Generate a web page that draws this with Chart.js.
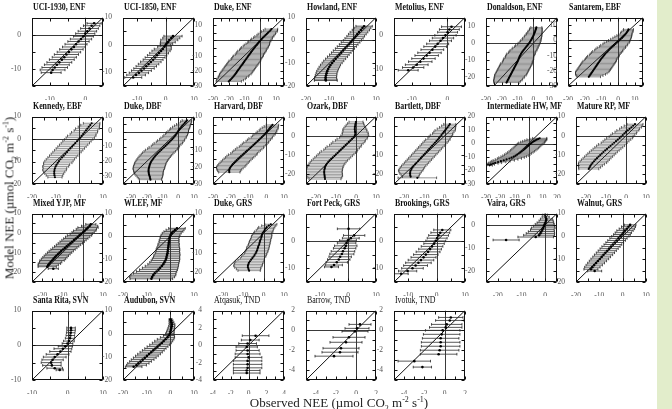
<!DOCTYPE html>
<html><head><meta charset="utf-8">
<script src="https://cdn.jsdelivr.net/npm/chart.js@4.4.1/dist/chart.umd.min.js"></script>
<style>
html,body{margin:0;padding:0;background:#fff;}
#wrap{position:relative;width:672px;height:409px;overflow:hidden;background:#fff;}
#strip{position:absolute;left:657px;top:0;width:15px;height:409px;background:#e2edcb;}
.ttl{position:absolute;font-family:"Liberation Serif","Times New Roman",serif;font-size:10.5px;line-height:10px;font-weight:bold;color:#111;white-space:nowrap;transform:scaleX(0.75);transform-origin:0 0;}
.ttl.reg{font-weight:normal;}
canvas{position:absolute;}
.axt{position:absolute;font-family:"Liberation Serif","Times New Roman",serif;font-size:13px;line-height:13px;color:#222;white-space:nowrap;}
.axt sub,.axt sup{font-size:8px;line-height:0;}
</style></head>
<body><div id="wrap"><div id="strip"></div></div>
<script>
// ---- data: [observed NEE, model NEE, error half-width] ----
const uci1930 = [[2.5,3.3,2.0],[1.8,2.6,2.3],[1.2,1.8,2.5],[0.6,1.0,2.6],[0.0,0.3,2.7],[-0.5,-0.5,2.8],[-1.2,-1.3,3.0],[-1.9,-2.0,3.0],[-2.6,-2.8,3.1],[-3.2,-3.6,3.2],[-3.9,-4.3,3.3],[-4.6,-5.1,3.3],[-5.3,-5.8,3.4],[-5.9,-6.6,3.4],[-6.6,-7.3,3.5],[-7.3,-8.1,3.5],[-8.0,-8.8,3.5],[-8.6,-9.6,3.6],[-9.2,-10.3,3.5],[-9.6,-11.1,2.8]];
const uci1850 = [[2.6,3.2,3.2],[2.0,2.5,3.0],[1.3,1.8,3.0],[0.8,1.0,2.6],[0.3,0.4,2.2],[0.0,-0.1,1.8],[-0.4,-0.7,2.4],[-1.0,-1.5,3.0],[-1.6,-2.2,3.2],[-2.3,-3.0,3.3],[-3.0,-3.8,3.4],[-3.7,-4.6,3.5],[-4.4,-5.4,3.5],[-5.2,-6.2,3.6],[-6.0,-7.0,3.6],[-6.8,-7.8,3.6],[-7.6,-8.6,3.6],[-8.5,-9.4,3.5],[-9.4,-10.2,3.4],[-10.4,-11.0,3.3],[-11.4,-11.9,3.0]];
const dukeEnf = [[-20.0,-27.0,8],[-19.2,-26.2,8.5],[-18.5,-25.4,9],[-17.8,-24.6,9],[-17.1,-23.8,9.5],[-16.5,-23.0,9.5],[-15.9,-22.2,10],[-15.3,-21.4,10],[-14.8,-20.6,10],[-14.2,-19.8,10],[-13.7,-19.0,10],[-13.1,-18.2,10],[-12.6,-17.4,10],[-12.0,-16.6,10],[-11.4,-15.8,10],[-10.9,-15.0,10],[-10.3,-14.2,10],[-9.8,-13.4,10],[-9.2,-12.6,9.5],[-8.7,-11.8,9.5],[-8.1,-11.0,9.5],[-7.6,-10.2,9.5],[-7.0,-9.4,9],[-6.4,-8.6,9],[-5.9,-7.8,9],[-5.3,-7.0,9],[-4.7,-6.2,8.5],[-4.1,-5.4,8.5],[-3.5,-4.6,8.5],[-2.9,-3.8,8],[-2.2,-3.0,8],[-1.6,-2.2,7.5],[-1.0,-1.4,7],[-0.4,-0.6,7],[0.3,0.2,6.5],[1.0,1.0,6.5],[1.7,1.8,6],[2.5,2.6,6],[3.3,3.4,5.5],[4.1,4.2,5.5],[4.9,5.0,5],[5.7,5.8,5],[6.4,6.6,4.5],[7.0,7.4,4]];
const howland = [[4.9,6.2,3.5],[4.2,5.4,3.6],[3.5,4.5,3.7],[2.7,3.6,3.8],[2.0,2.7,3.8],[1.3,1.8,3.8],[0.6,0.9,3.9],[-0.1,0.0,3.9],[-0.9,-0.9,4.0],[-1.7,-1.8,4.0],[-2.5,-2.7,4.1],[-3.3,-3.6,4.1],[-4.1,-4.5,4.2],[-4.9,-5.4,4.2],[-5.7,-6.3,4.2],[-6.5,-7.2,4.3],[-7.3,-8.1,4.3],[-8.1,-9.0,4.3],[-8.8,-9.9,4.3],[-9.5,-10.8,4.3],[-10.0,-11.7,4.4],[-10.5,-12.6,4.4],[-10.9,-13.5,4.5],[-11.2,-14.4,4.5],[-11.4,-15.3,4.6],[-11.6,-16.2,4.7],[-11.6,-17.0,4.8],[-11.5,-17.6,4.9]];
const metolius = [[1.2,2.3,2.8],[0.6,1.5,2.8],[0.1,0.7,2.8],[-0.5,-0.2,3.0],[-1.2,-1.0,3.0],[-1.9,-1.8,3.1],[-2.7,-2.7,3.1],[-3.4,-3.5,3.2],[-4.2,-4.4,3.2],[-5.0,-5.3,3.3],[-5.8,-6.1,3.3],[-6.7,-7.0,3.3],[-7.6,-7.9,3.3],[-8.6,-8.8,3.2],[-9.6,-9.6,3.0],[-11.0,-10.4,2.8]];
const donaldson = [[-17.0,-23.0,8],[-16.6,-22.3,8.5],[-16.2,-21.6,9],[-15.8,-20.9,9],[-15.4,-20.2,9.5],[-15.0,-19.5,9.5],[-14.6,-18.8,10],[-14.2,-18.1,10],[-13.8,-17.4,10],[-13.4,-16.7,10],[-13.0,-16.0,10],[-12.6,-15.3,10],[-12.2,-14.6,10],[-11.8,-13.9,10],[-11.4,-13.2,10],[-11.0,-12.5,10],[-10.6,-11.8,10],[-10.2,-11.1,9.5],[-9.8,-10.4,9.5],[-9.5,-9.7,9.5],[-9.2,-9.0,9.5],[-8.9,-8.3,9],[-8.6,-7.6,9],[-8.2,-6.9,9],[-7.8,-6.2,9],[-7.3,-5.5,8.5],[-6.8,-4.8,8.5],[-6.2,-4.1,8.5],[-5.6,-3.4,8],[-5.0,-2.7,8],[-4.4,-2.0,7.5],[-3.8,-1.3,7.5],[-3.2,-0.6,7],[-2.6,0.1,7],[-2.1,0.8,6.5],[-1.6,1.5,6.5],[-1.2,2.2,6],[-0.8,2.9,6],[-0.4,3.6,5.5],[0.0,4.3,5.5],[0.3,5.0,5],[0.6,5.7,5],[0.9,6.4,4.5],[1.2,7.1,4.5],[1.5,7.8,4],[1.7,8.5,4],[1.9,9.2,3.5]];
const santarem = [[-17.5,-24.0,7],[-17.0,-23.2,8],[-16.5,-22.4,9],[-16.0,-21.6,9.5],[-15.5,-20.8,10],[-15.0,-20.0,10],[-14.5,-19.2,10],[-14.0,-18.4,10],[-13.5,-17.6,10],[-13.0,-16.8,10],[-12.5,-16.0,10],[-12.0,-15.2,10],[-11.5,-14.4,10],[-11.0,-13.6,10],[-10.5,-12.8,9.5],[-10.0,-12.0,9.5],[-9.4,-11.2,9.5],[-8.8,-10.4,9.5],[-8.2,-9.6,9],[-7.6,-8.8,9],[-6.9,-8.0,9],[-6.2,-7.2,9],[-5.5,-6.4,8.5],[-4.8,-5.6,8.5],[-4.0,-4.8,8.5],[-3.2,-4.0,8],[-2.4,-3.2,8],[-1.6,-2.4,7.5],[-0.8,-1.6,7.5],[0.0,-0.8,7],[0.8,0.0,6.5],[1.6,0.8,6],[2.4,1.6,5.5],[3.1,2.4,5],[3.8,3.2,4.5],[4.4,4.0,4],[5.0,4.8,3.5],[5.5,5.6,3.5],[6.0,6.4,3],[6.3,7.2,3]];
const kennedy = [[5.2,7.0,3.5],[4.6,6.2,4],[4.0,5.4,4.5],[3.4,4.6,5],[2.8,3.8,5],[2.2,3.0,5.5],[1.6,2.2,5.5],[1.0,1.4,6],[0.4,0.6,6],[-0.3,-0.2,6],[-1.0,-1.0,6],[-1.7,-1.8,6],[-2.4,-2.6,6],[-3.1,-3.4,6],[-3.8,-4.2,6],[-4.5,-5.0,6],[-5.2,-5.8,6],[-5.9,-6.6,6],[-6.6,-7.4,6],[-7.3,-8.2,6],[-8.0,-9.0,6],[-8.6,-9.8,6],[-9.1,-10.6,6],[-9.6,-11.4,5.5],[-10.0,-12.2,5.5],[-10.3,-13.0,5],[-10.5,-13.8,5],[-10.6,-14.6,4.5],[-10.6,-15.4,4],[-10.5,-16.2,3.5],[-10.3,-17.0,3]];
const dukeDbf = [[5.5,7.5,3],[5.0,6.6,3.5],[4.2,5.7,4],[3.4,4.8,4.5],[2.6,3.9,5],[1.9,3.0,5.5],[1.2,2.1,6],[0.6,1.2,6],[0.0,0.3,6.5],[-0.5,-0.6,7],[-1.0,-1.5,7],[-1.6,-2.4,7.5],[-2.3,-3.3,7.5],[-3.0,-4.2,8],[-3.8,-5.1,8],[-4.6,-6.0,8.5],[-5.4,-6.9,8.5],[-6.3,-7.8,9],[-7.2,-8.7,9],[-8.1,-9.6,9],[-9.0,-10.5,9.5],[-9.9,-11.4,9.5],[-10.8,-12.3,10],[-11.7,-13.2,10],[-12.6,-14.1,10],[-13.4,-15.0,10],[-14.2,-15.9,10],[-14.9,-16.8,10],[-15.6,-17.7,10],[-16.2,-18.6,10],[-16.8,-19.5,10],[-17.3,-20.4,10],[-17.7,-21.3,10],[-18.0,-22.2,10],[-18.3,-23.1,10],[-18.5,-24.0,10],[-18.7,-24.9,10],[-18.8,-25.8,9.5],[-18.8,-26.7,9.5],[-18.7,-27.6,9],[-18.5,-28.5,9],[-18.3,-29.4,8.5],[-18.0,-30.3,8],[-17.8,-31.2,7.5],[-17.6,-32.1,7]];
const harvard = [[3.5,5.0,3.5],[2.8,4.2,4],[2.2,3.4,4.5],[1.6,2.6,5],[1.0,1.8,5],[0.4,1.0,5.5],[-0.3,0.2,5.5],[-1.0,-0.6,6],[-1.7,-1.4,6],[-2.5,-2.2,6],[-3.3,-3.0,6.5],[-4.1,-3.8,6.5],[-4.9,-4.6,6.5],[-5.7,-5.4,7],[-6.5,-6.2,7],[-7.3,-7.0,7],[-8.2,-7.8,7],[-9.0,-8.6,7.5],[-9.9,-9.4,7.5],[-10.8,-10.2,7.5],[-11.6,-11.0,7.5],[-12.5,-11.8,7.5],[-13.3,-12.6,8],[-14.2,-13.4,8],[-15.0,-14.2,8],[-15.8,-15.0,8],[-16.6,-15.8,8],[-17.4,-16.6,8],[-18.1,-17.4,8],[-18.8,-18.2,8],[-19.4,-19.0,8],[-20.0,-19.8,8],[-20.5,-20.6,7.5],[-20.8,-21.4,7],[-20.9,-22.2,6.5],[-20.8,-23.0,6]];
const ozark = [[0.0,7.2,3.5],[-0.2,6.4,4],[-0.4,5.6,4.5],[-0.5,4.8,5],[-0.6,4.0,5.5],[-0.6,3.2,6],[-0.5,2.4,6],[-0.4,1.6,6.5],[-0.4,0.8,6.5],[-0.6,0.0,7],[-1.2,-0.8,7],[-2.0,-1.6,7.5],[-2.8,-2.4,7.5],[-3.6,-3.2,8],[-4.4,-4.0,8],[-5.2,-4.8,8],[-6.0,-5.6,8.5],[-6.8,-6.4,8.5],[-7.6,-7.2,8.5],[-8.4,-8.0,9],[-9.2,-8.8,9],[-10.0,-9.6,9],[-10.8,-10.4,9],[-11.6,-11.2,9],[-12.4,-12.0,9],[-13.2,-12.8,9],[-13.9,-13.6,9],[-14.5,-14.4,9],[-15.0,-15.2,9],[-15.4,-16.0,9],[-15.6,-16.8,9],[-15.8,-17.6,9],[-15.9,-18.4,9],[-15.9,-19.2,9],[-15.8,-20.0,9],[-15.7,-20.8,9],[-15.6,-21.6,8.5],[-15.5,-22.4,8]];
const bartlett = [[2.5,6.0,3],[2.0,5.2,3.5],[1.4,4.4,4],[0.8,3.6,4.5],[0.2,2.8,5],[-0.4,2.0,5],[-1.0,1.2,5],[-1.6,0.4,5.5],[-2.2,-0.4,5.5],[-2.8,-1.2,5.5],[-3.4,-2.0,6],[-4.1,-2.8,6],[-4.8,-3.6,6],[-5.5,-4.4,6],[-6.2,-5.2,6],[-6.9,-6.0,6],[-7.6,-6.8,6],[-8.3,-7.6,6],[-9.0,-8.4,6],[-9.7,-9.2,6],[-10.4,-10.0,6],[-11.1,-10.8,6],[-11.8,-11.6,6],[-12.5,-12.4,6],[-13.2,-13.2,6],[-13.9,-14.0,6],[-14.6,-14.8,6],[-15.3,-15.6,6],[-15.9,-16.4,6],[-16.4,-17.2,6],[-16.8,-18.0,6],[-17.0,-18.8,5.5],[-17.1,-19.6,5],[-17.0,-20.4,4.5],[-16.8,-21.2,4],[-13.5,-21.8,9.5]];
const intermediateHw = [[-27.5,-16.2,2],[-26.5,-15.5,2.5],[-25.0,-14.8,3.5],[-23.5,-14.3,4.5],[-21.5,-13.7,5.5],[-19.5,-13.1,6.5],[-17.5,-12.5,7.5],[-15.5,-11.8,8],[-13.5,-11.1,8.5],[-12.0,-10.4,9],[-10.5,-9.7,9],[-9.2,-9.0,9],[-8.0,-8.2,9],[-6.9,-7.4,9],[-5.8,-6.6,9],[-4.8,-5.8,9],[-3.8,-5.0,9],[-2.9,-4.2,9],[-2.0,-3.4,9],[-1.2,-2.6,9],[-0.4,-1.8,9],[0.4,-1.0,9],[1.2,-0.3,9],[2.0,0.4,9],[2.9,1.1,8.5],[3.8,1.7,8],[4.8,2.3,7.5],[5.8,2.9,7],[6.8,3.4,6],[7.8,3.9,5]];
const matureRp = [[4.5,6.0,4],[3.6,5.2,4.5],[2.7,4.4,5],[1.8,3.6,5],[0.9,2.8,5.5],[0.0,2.0,5.5],[-0.8,1.2,6],[-1.6,0.4,6],[-2.4,-0.4,6],[-3.2,-1.2,6.5],[-4.1,-2.0,6.5],[-5.0,-2.8,6.5],[-5.9,-3.6,6.5],[-6.8,-4.4,7],[-7.7,-5.2,7],[-8.6,-6.0,7],[-9.5,-6.8,7],[-10.4,-7.6,7],[-11.3,-8.4,7],[-12.1,-9.2,7],[-12.9,-10.0,7],[-13.7,-10.8,7],[-14.5,-11.6,7],[-15.3,-12.4,7],[-16.0,-13.2,7],[-16.7,-14.0,7],[-17.3,-14.8,6.5],[-17.8,-15.6,6],[-18.2,-16.4,5.5],[-18.6,-17.2,5]];
const mixedYjp = [[4.0,4.5,2.5],[3.4,3.6,4],[2.6,2.8,5],[1.8,2.0,5],[1.0,1.2,5.5],[0.2,0.4,5.5],[-0.7,-0.4,5.5],[-1.6,-1.2,6],[-2.5,-2.0,6],[-3.4,-2.8,6],[-4.3,-3.6,6],[-5.2,-4.4,6],[-6.1,-5.2,6],[-7.0,-6.0,6],[-7.9,-6.8,6],[-8.8,-7.6,6],[-9.7,-8.4,6],[-10.6,-9.2,6],[-11.4,-10.0,6],[-12.2,-10.8,6],[-13.0,-11.6,6],[-13.7,-12.4,6],[-14.4,-13.2,6],[-15.1,-14.0,6],[-15.8,-14.8,5.5],[-16.4,-15.6,5.5],[-17.0,-16.4,5],[-17.5,-17.2,4.5],[-14.5,-18.2,2.5]];
const wlef = [[2.8,3.5,3.5],[2.0,2.8,3.8],[1.3,2.1,4],[0.6,1.4,4],[0.1,0.6,4],[-0.2,-0.2,4],[-0.4,-1.0,4],[-0.5,-1.8,4.2],[-0.6,-2.6,4.2],[-0.7,-3.4,4.5],[-0.8,-4.2,4.5],[-0.9,-5.0,4.8],[-1.0,-5.8,5],[-1.1,-6.6,5],[-1.2,-7.4,5.2],[-1.4,-8.2,5.5],[-1.6,-9.0,5.5],[-1.8,-9.8,5.8],[-2.1,-10.6,6],[-2.5,-11.4,6.2],[-3.0,-12.2,6.5],[-3.6,-13.0,7],[-4.3,-13.8,7.5],[-5.0,-14.6,8],[-5.8,-15.4,8.5],[-6.6,-16.2,9],[-7.2,-17.0,9.5],[-7.7,-17.8,9.5],[-8.0,-18.6,9]];
const dukeGrs = [[3.5,4.5,3],[2.5,3.8,3.5],[1.5,3.0,4],[1.0,2.3,4],[0.5,1.5,4.2],[0.0,0.7,4.5],[-0.5,0.0,4.5],[-0.8,-0.8,4.8],[-1.0,-1.6,5],[-1.2,-2.4,5],[-1.5,-3.2,5],[-1.8,-4.0,5.2],[-2.0,-4.8,5.2],[-2.2,-5.6,5.3],[-2.5,-6.4,5.3],[-2.8,-7.2,5.5],[-3.0,-8.0,5.5],[-3.3,-8.8,5.5],[-3.6,-9.6,5.6],[-4.0,-10.4,5.6],[-4.5,-11.2,5.8],[-5.0,-12.0,6],[-5.6,-12.8,6],[-6.2,-13.6,6.5],[-6.8,-14.4,7],[-7.3,-15.2,7],[-7.6,-16.0,7],[-7.8,-16.8,7],[-7.8,-17.6,6.5],[-7.5,-18.4,6],[-7.2,-19.2,5.5]];
const fortPeck = [[0.2,4.4,4],[2.2,2.0,3.8],[1.0,1.0,3],[0.0,0.2,3],[-0.5,-0.8,3.3],[-0.8,-1.8,4],[-1.2,-2.7,4],[-1.8,-3.8,4.2],[-2.2,-4.8,4.3],[-2.8,-5.8,4.0],[-3.3,-6.8,4.0],[-4.0,-7.8,3.8],[-5.0,-8.8,3.0],[-5.9,-9.5,2.5]];
const brookings = [[2.0,4.0,3.0],[1.3,3.0,3.3],[0.7,2.0,3.5],[0.2,1.0,3.5],[-0.3,0.0,3.5],[-0.9,-1.0,3.6],[-1.6,-2.0,3.8],[-2.3,-3.0,4.0],[-3.0,-4.0,4.2],[-3.8,-5.0,4.3],[-4.6,-6.0,4.4],[-5.5,-7.0,4.5],[-6.4,-8.0,4.5],[-7.4,-9.0,4.2],[-8.5,-10.0,3.8],[-10.2,-11.0,3.2],[-12.5,-12.0,2.5]];
const vaira = [[0.0,4.5,1.0],[0.2,3.5,1.5],[0.5,2.6,2.5],[0.4,1.8,3.0],[0.1,1.0,3.5],[-0.2,0.3,4.0],[-0.5,-0.5,4.5],[-0.8,-1.3,5.0],[-1.2,-2.1,5.0],[-1.6,-2.9,5.5],[-2.0,-3.7,6.0],[-2.6,-4.5,6.5],[-4.0,-5.3,7.5],[-16.5,-6.6,5.5]];
const walnut = [[3.2,5.0,2.5],[2.5,4.2,3.0],[1.8,3.3,3.3],[1.0,2.5,3.5],[0.3,1.6,3.5],[-0.3,0.8,3.6],[-1.0,0.0,3.7],[-1.8,-0.9,3.7],[-2.6,-1.8,3.8],[-3.4,-2.7,3.8],[-4.2,-3.6,3.8],[-5.0,-4.5,3.9],[-5.8,-5.4,3.9],[-6.6,-6.3,3.9],[-7.4,-7.2,3.9],[-8.2,-8.1,3.9],[-9.0,-9.0,3.8],[-9.8,-9.9,3.8],[-10.6,-10.8,3.7],[-11.4,-11.7,3.6],[-12.2,-12.6,3.5],[-13.0,-13.5,3.3],[-13.6,-14.4,3.0],[-12.0,-15.2,3.0]];
const santaRita = [[1.0,5.0,1.2],[1.0,4.3,1.2],[0.9,3.6,1.2],[0.8,2.8,1.2],[0.7,2.0,1.3],[0.4,1.2,1.5],[0.0,0.5,1.5],[-0.6,-0.3,2.0],[-1.3,-1.0,2.5],[-2.0,-1.8,3.0],[-2.8,-2.6,3.2],[-3.6,-3.4,3.2],[-4.2,-4.2,3.0],[-4.6,-5.0,2.8],[-4.4,-5.8,2.6],[-3.6,-6.6,2.2],[-2.2,-7.1,1.0]];
const audubon = [[0.1,6.2,0.6],[0.3,5.6,0.8],[0.5,4.8,1.0],[0.7,4.0,1.2],[0.6,3.2,1.3],[0.4,2.4,1.4],[0.2,1.6,1.5],[0.0,0.8,1.6],[-0.2,0.0,1.8],[-0.6,-0.8,2.3],[-1.2,-1.6,3],[-2.0,-2.4,3.5],[-2.8,-3.2,3.8],[-3.6,-4.0,4],[-4.5,-4.8,4.2],[-5.4,-5.6,4.4],[-6.3,-6.4,4.5],[-7.2,-7.2,4.6],[-8.1,-8.0,4.7],[-9.0,-8.8,4.8],[-9.9,-9.6,4.8],[-10.8,-10.4,4.8],[-11.7,-11.2,4.8],[-12.6,-12.0,4.6],[-13.5,-12.8,4.5],[-14.3,-13.6,4.2],[-15.5,-14.3,3.5]];
const atqasuk = [[0.8,1.1,1.5],[0.2,0.6,1.0],[-0.1,0.2,1.0],[-0.2,-0.2,1.2],[-0.1,-0.6,1.3],[-0.1,-1.0,1.4],[0.0,-1.4,1.5],[-0.1,-1.8,1.6],[-0.1,-2.2,1.6],[-0.1,-2.6,1.6],[-0.2,-2.9,1.5],[-0.2,-3.2,1.5]];
const barrow = [[0.4,0.6,1.1],[0.1,0.2,1.2],[-0.1,-0.1,1.3],[-0.7,-0.7,1.6],[-1.0,-1.2,1.6],[-1.5,-1.8,1.8],[-1.6,-2.2,1.8],[-2.2,-2.6,1.9]];
const ivotuk = [[0.6,1.3,1.2],[0.5,1.0,1.4],[0.2,0.6,1.5],[0.1,0.3,1.6],[-0.2,0.0,1.7],[-0.3,-0.4,1.8],[-0.4,-0.8,1.8],[-0.4,-1.2,1.9],[-0.4,-1.6,1.9],[-0.5,-2.0,1.9],[-0.6,-2.4,1.8],[-3.0,-3.1,1.6],[-2.2,-3.7,0.9]];

// panel titles, axis ranges and tick steps [min,max,labelStep,minorStep]
const siteNames = ['UCI-1930, ENF','UCI-1850, ENF','Duke, ENF','Howland, ENF','Metolius, ENF','Donaldson, ENF','Santarem, EBF',
 'Kennedy, EBF','Duke, DBF','Harvard, DBF','Ozark, DBF','Bartlett, DBF','Intermediate HW, MF','Mature RP, MF',
 'Mixed YJP, MF','WLEF, MF','Duke, GRS','Fort Peck, GRS','Brookings, GRS','Vaira, GRS','Walnut, GRS',
 'Santa Rita, SVN','Audubon, SVN','Atqasuk, TND','Barrow, TND','Ivotuk, TND'];
const siteData = [uci1930,uci1850,dukeEnf,howland,metolius,donaldson,santarem,
 kennedy,dukeDbf,harvard,ozark,bartlett,intermediateHw,matureRp,
 mixedYjp,wlef,dukeGrs,fortPeck,brookings,vaira,walnut,
 santaRita,audubon,atqasuk,barrow,ivotuk];
const xRanges = [[-15,5,10,5],[-15,10,10,5],[-30,15,10,5],[-20,10,10,5],[-15,5,10,5],[-30,15,10,5],[-30,15,10,5],
 [-20,10,10,5],[-35,10,10,5],[-30,10,10,5],[-25,10,10,5],[-25,10,10,5],[-30,20,10,5],[-25,10,10,5],
 [-25,10,10,5],[-20,10,10,5],[-25,10,10,5],[-15,10,10,5],[-15,10,10,5],[-25,5,10,5],[-20,10,10,5],
 [-10,10,10,5],[-20,10,10,5],[-4,4,2,1],[-5,2,2,1],[-5,2,2,1]];
const yRanges = [[-15,5,10,5],[-15,10,10,5],[-30,15,10,5],[-20,10,10,5],[-15,5,10,5],[-25,15,10,5],[-30,15,10,5],
 [-20,10,10,5],[-35,10,10,5],[-30,10,10,5],[-25,10,10,5],[-25,10,10,5],[-30,20,10,5],[-25,10,10,5],
 [-25,10,10,5],[-20,10,10,5],[-25,10,10,5],[-15,10,10,5],[-15,10,10,5],[-25,5,10,5],[-20,10,10,5],
 [-10,10,10,5],[-20,10,10,5],[-4,4,2,1],[-5,2,2,1],[-5,2,2,1]];
const boldTitle = [1,1,1,1,1,1,1, 1,1,1,1,1,1,1, 1,1,1,1,1,1,1, 1,1,0,0,0];

// ---- layout ----
const colX = [32,123,213,306,394,486,576];
const colW = [71,71,71,70,71,71,70];
const rowY = [15,114,211,308];
const rowH = [71,70,71,72];
const PL = 24, PT = 5, PR = 8, PB = 14;
const tickFont = {family:'"Liberation Serif","Times New Roman",serif', size:7.5};

function frameOf(i){
  const row = Math.floor(i/7), col = i%7;
  let fx = colX[col], fw = colW[col];
  if (i === 6) { fx = 568; fw = 75; }
  return {fx, fy: rowY[row], fw, fh: rowH[row]};
}

const panelDeco = {
  id:'panelDeco',
  beforeDatasetsDraw(chart){
    const {ctx, chartArea:a, scales:{x, y}} = chart;
    const pts = chart.data.datasets[0].data;
    const dense = pts.length > 29;
    ctx.save();
    ctx.beginPath(); ctx.rect(a.left, a.top, a.right-a.left, a.bottom-a.top); ctx.clip();
    const ln = (x1,y1,x2,y2)=>{ctx.beginPath();ctx.moveTo(x1,y1);ctx.lineTo(x2,y2);ctx.stroke();};
    ctx.lineWidth = 1; ctx.strokeStyle = '#3a3a3a';
    const x0 = Math.round(x.getPixelForValue(0))+0.5, y0 = Math.round(y.getPixelForValue(0))+0.5;
    ln(x0,a.top,x0,a.bottom); ln(a.left,y0,a.right,y0);
    const lo = Math.min(x.min,y.min), hi = Math.max(x.max,y.max);
    ctx.strokeStyle = '#111';
    ln(x.getPixelForValue(lo), y.getPixelForValue(lo), x.getPixelForValue(hi), y.getPixelForValue(hi));
    ctx.strokeStyle = dense ? 'rgba(60,60,60,0.72)' : 'rgba(50,50,50,0.9)';
    ctx.lineWidth = dense ? 0.75 : 0.9;
    for (const p of pts) {
      const py = y.getPixelForValue(p.y), xl = x.getPixelForValue(p.x - p.e), xr = x.getPixelForValue(p.x + p.e);
      ln(xl,py,xr,py);
    }
    ctx.strokeStyle = dense ? 'rgba(30,30,30,0.85)' : '#222'; ctx.lineWidth = 0.8;
    for (const p of pts) {
      const py = y.getPixelForValue(p.y), xl = x.getPixelForValue(p.x - p.e), xr = x.getPixelForValue(p.x + p.e);
      ln(xl,py-1.3,xl,py+1.3); ln(xr,py-1.3,xr,py+1.3);
    }
    ctx.restore();
  },
  afterDatasetsDraw(chart){
    const {ctx, chartArea:a, scales:{x, y}} = chart;
    ctx.save();
    ctx.strokeStyle = '#111'; ctx.lineWidth = 1;
    const L = Math.round(a.left)+0.5, R = Math.round(a.right)-0.5, T = Math.round(a.top)+0.5, B = Math.round(a.bottom)-0.5;
    ctx.strokeRect(L, T, R-L, B-T);
    ctx.beginPath();
    for (const t of x.ticks) { const px = Math.round(x.getPixelForValue(t.value))+0.5; ctx.moveTo(px,B); ctx.lineTo(px,B-3); ctx.moveTo(px,T); ctx.lineTo(px,T+3); }
    for (const t of y.ticks) { const py = Math.round(y.getPixelForValue(t.value))+0.5; ctx.moveTo(L,py); ctx.lineTo(L+3,py); ctx.moveTo(R,py); ctx.lineTo(R-3,py); }
    ctx.stroke();
    ctx.restore();
  }
};

const wrap = document.getElementById('wrap');
function axis(r, isX){
  return {
    type:'linear', min:r[0], max:r[1], grace:0,
    grid:{display:false}, border:{display:false},
    ticks:{stepSize:r[3], autoSkip:false, maxRotation:0, padding:isX?2:3, color:'#555', font:tickFont,
      callback:(v)=> (Math.abs(v % r[2]) < 1e-9 ? String(v) : '')},
    afterFit:(s)=>{ if(isX) s.height = PB; else s.width = PL; }
  };
}
siteNames.forEach((name, i) => {
  const {fx, fy, fw, fh} = frameOf(i);
  const cv = document.createElement('canvas');
  cv.width = PL+fw+PR; cv.height = PT+fh+PB;
  cv.style.left = (fx-PL)+'px'; cv.style.top = (fy-PT)+'px';
  wrap.appendChild(cv);
  const t = document.createElement('div');
  t.className = 'ttl' + (boldTitle[i] ? '' : ' reg');
  t.textContent = name;
  t.style.left = (fx+1)+'px'; t.style.top = (fy-13)+'px';
  wrap.appendChild(t);
  const n = siteData[i].length;
  new Chart(cv, {
    type:'scatter',
    data:{datasets:[{data: siteData[i].map(p=>({x:p[0], y:p[1], e:p[2]})), pointRadius: n > 29 ? 1.1 : 1.3, pointBorderWidth:0, backgroundColor:'#000', borderColor:'#000'}]},
    options:{
      responsive:false, animation:false, devicePixelRatio:1, events:[],
      layout:{padding:{top:PT, right:PR, left:0, bottom:0}},
      plugins:{legend:{display:false}, tooltip:{enabled:false}, title:{display:false}},
      scales:{x:axis(xRanges[i], true), y:axis(yRanges[i], false)}
    },
    plugins:[panelDeco]
  });
});

const yt = document.createElement('div');
yt.className = 'axt';
yt.innerHTML = 'Model NEE (&micro;mol CO<sub>2</sub> m<sup>-2</sup> s<sup>-1</sup>)';
yt.style.left = '9px'; yt.style.top = '198px';
yt.style.transform = 'translate(-50%,-50%) rotate(-90deg)';
wrap.appendChild(yt);
const xt = document.createElement('div');
xt.className = 'axt';
xt.innerHTML = 'Observed NEE (&micro;mol CO<sub>2</sub> m<sup>-2</sup> s<sup>-1</sup>)';
xt.style.left = '339px'; xt.style.top = '396px';
xt.style.transform = 'translateX(-50%)';
wrap.appendChild(xt);
</script>
</body></html>
